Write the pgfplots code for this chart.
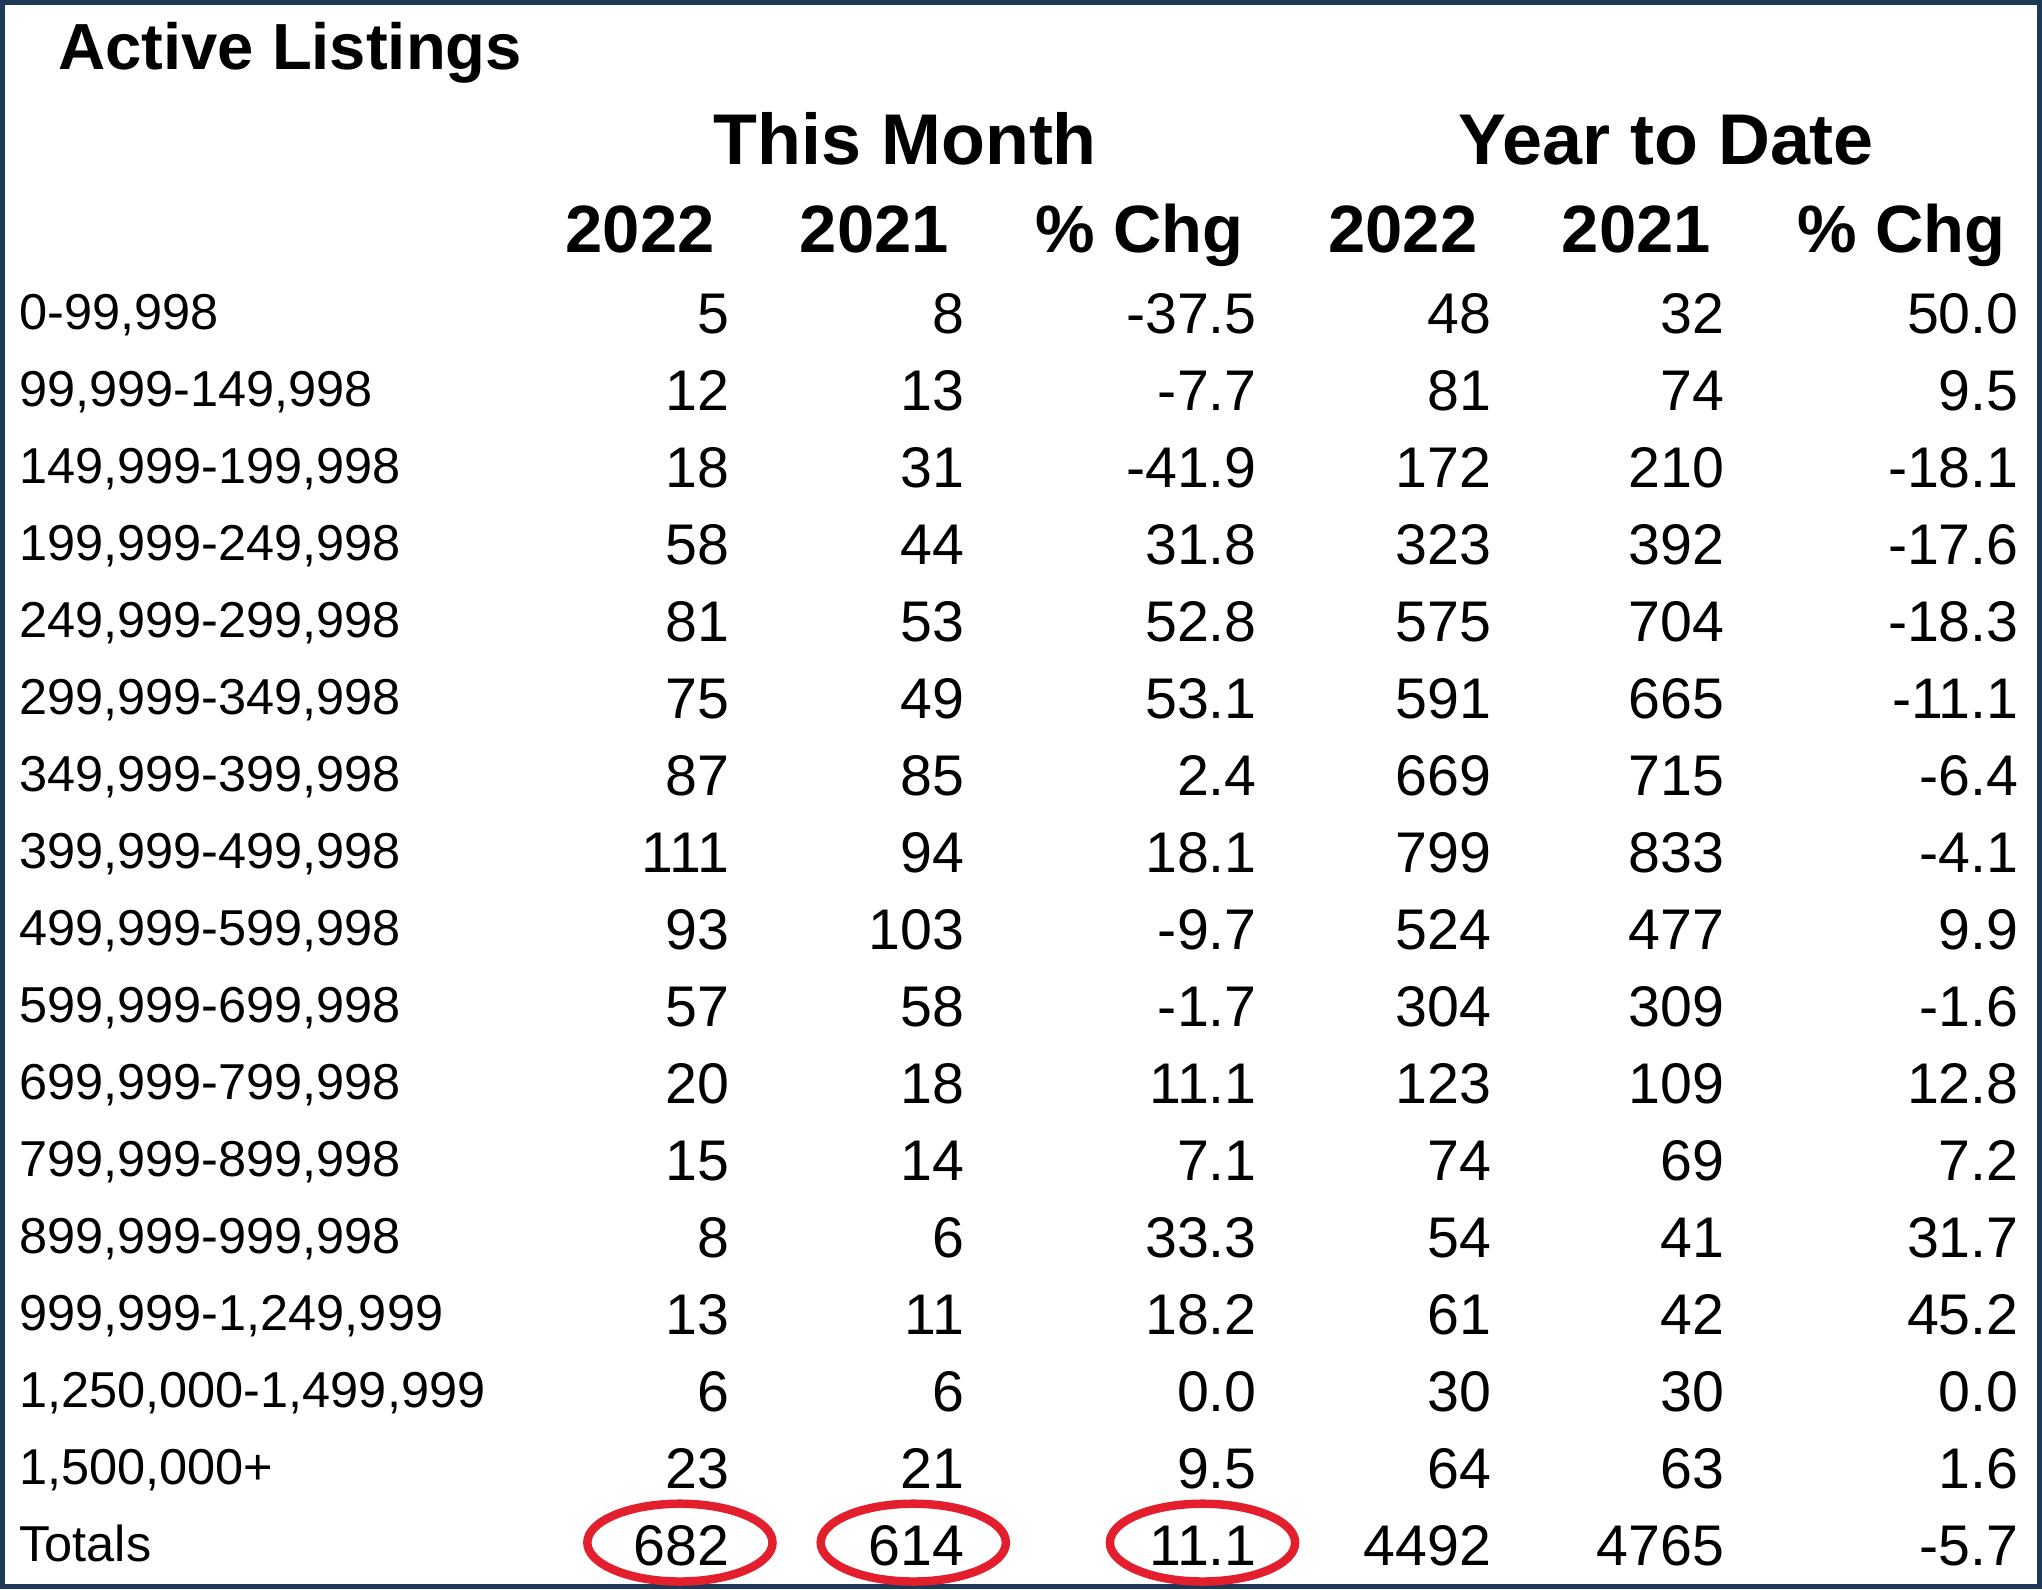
\documentclass[border=0pt]{standalone}
\usepackage{pgfplots}
\pgfplotsset{compat=1.18}
\usepackage{pgfplotstable}
\usepackage{fontspec}
\setmainfont{Liberation Sans}
\definecolor{framecol}{RGB}{30,57,87}
\definecolor{ringred}{RGB}{227,30,45}

% price bands: this month 2022, 2021, % chg; year to date 2022, 2021, % chg
\pgfplotstableread{
label c1 c2 c3 c4 c5 c6
0-99,998 5 8 -37.5 48 32 50.0
99,999-149,998 12 13 -7.7 81 74 9.5
149,999-199,998 18 31 -41.9 172 210 -18.1
199,999-249,998 58 44 31.8 323 392 -17.6
249,999-299,998 81 53 52.8 575 704 -18.3
299,999-349,998 75 49 53.1 591 665 -11.1
349,999-399,998 87 85 2.4 669 715 -6.4
399,999-499,998 111 94 18.1 799 833 -4.1
499,999-599,998 93 103 -9.7 524 477 9.9
599,999-699,998 57 58 -1.7 304 309 -1.6
699,999-799,998 20 18 11.1 123 109 12.8
799,999-899,998 15 14 7.1 74 69 7.2
899,999-999,998 8 6 33.3 54 41 31.7
999,999-1,249,999 13 11 18.2 61 42 45.2
1,250,000-1,499,999 6 6 0.0 30 30 0.0
1,500,000+ 23 21 9.5 64 63 1.6
Totals 682 614 11.1 4492 4765 -5.7
}\body

\pgfplotsset{
  txt/.style={only marks, mark=none, point meta=explicit symbolic,
    nodes near coords, nodes near coords align={anchor=#1},
    nodes near coords style={inner sep=0pt, text=black, anchor=#1}},
  num/.style={txt=base east, nodes near coords style={font=\fontsize{16.35pt}{18pt}\selectfont}},
}

\begin{document}
\begin{tikzpicture}
\begin{axis}[
    width=204.2mm, height=158.8mm, scale only axis,
    xmin=0, xmax=2042, ymin=0, ymax=1588, y dir=reverse,
    xtick=\empty, ytick=\empty,
    axis line style={draw=framecol, line width=0.55mm},
    clip=false,
]
% title
\addplot[txt=base west, nodes near coords style={font=\bfseries\fontsize{18.6pt}{20pt}\selectfont}]
  table[col sep=comma, meta=t] {
x,y,t
55,67,Active Listings
};
% group headers
\addplot[txt=base, nodes near coords style={font=\bfseries\fontsize{20.5pt}{22pt}\selectfont}]
  table[col sep=comma, meta=t] {
x,y,t
905,162,This Month
1668,162,Year to Date
};
% column headers
\addplot[txt=base, nodes near coords style={font=\bfseries\fontsize{19.1pt}{21pt}\selectfont}]
  table[col sep=comma, meta=t] {
x,y,t
639,250,2022
874,250,2021
1140,250,\% Chg
1404,250,2022
1638,250,2021
1904,250,\% Chg
};
% row labels
\addplot[txt=base west, nodes near coords style={font=\fontsize{14.4pt}{16pt}\selectfont}]
  table[x expr=16, y expr=328+77.2*\coordindex, meta=label] {\body};
% values
\addplot[num] table[x expr=729, y expr=332+77.2*\coordindex, meta=c1] {\body};
\addplot[num] table[x expr=965, y expr=332+77.2*\coordindex, meta=c2] {\body};
\addplot[num] table[x expr=1258, y expr=332+77.2*\coordindex, meta=c3] {\body};
\addplot[num] table[x expr=1493, y expr=332+77.2*\coordindex, meta=c4] {\body};
\addplot[num] table[x expr=1727, y expr=332+77.2*\coordindex, meta=c5] {\body};
\addplot[num] table[x expr=2022, y expr=332+77.2*\coordindex, meta=c6] {\body};
% rings round the month totals
\addplot[only marks, mark=o, mark size=11.1pt,
    mark options={draw=ringred, line width=0.85mm, xscale=2.38}]
  coordinates {(679,1544) (913,1544) (1203,1544)};
\end{axis}
\end{tikzpicture}
\end{document}
